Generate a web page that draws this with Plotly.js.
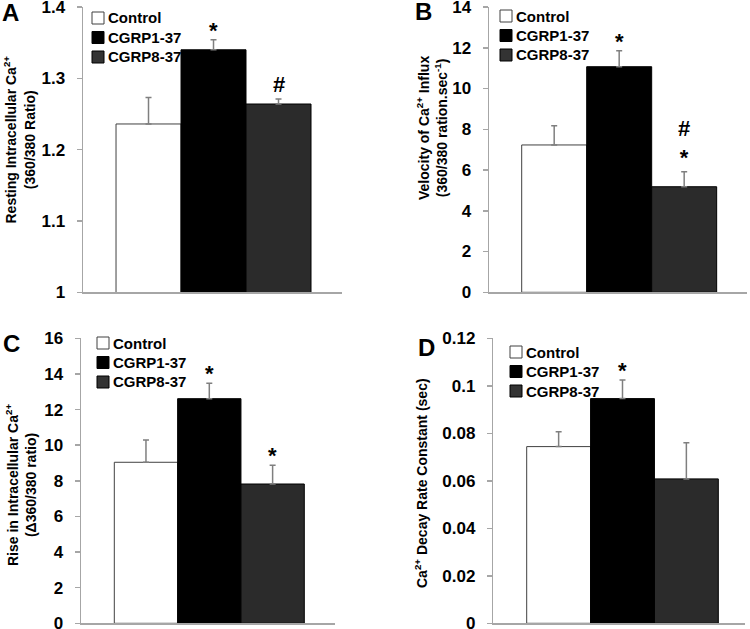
<!DOCTYPE html>
<html>
<head>
<meta charset="utf-8">
<script src="https://cdn.plot.ly/plotly-3.0.1.min.js"></script>
<style>
  html, body { margin: 0; padding: 0; background: #fff; }
  #myDiv { width: 750px; height: 629px; }
</style>
</head>
<body>
<div id="myDiv"></div>
<script>
var divId = "myDiv";

// groups, shared by the four panels
var groups = ["Control", "CGRP1-37", "CGRP8-37"];
var groupColors = ["#ffffff", "#000000", "#2b2b2b"];
var groupLines = ["#404040", "#000000", "#000000"];

// A - resting intracellular Ca2+
var restMean = [1.236, 1.340, 1.264];
var restSem = [0.037, 0.014, 0.007];
var restSig = ["", "*", "#"];
var restTicks = [1, 1.1, 1.2, 1.3, 1.4];
var restTickText = ["1", "1.1", "1.2", "1.3", "1.4"];

// B - velocity of Ca2+ influx
var velMean = [7.23, 11.07, 5.18];
var velSem = [0.94, 0.78, 0.74];
var velSig = ["", "*", "#<br>*"];
var velTicks = [0, 2, 4, 6, 8, 10, 12, 14];
var velTickText = ["0", "2", "4", "6", "8", "10", "12", "14"];

// C - rise in intracellular Ca2+
var riseMean = [9.04, 12.61, 7.82];
var riseSem = [1.25, 0.86, 1.05];
var riseSig = ["", "*", "*"];
var riseTicks = [0, 2, 4, 6, 8, 10, 12, 14, 16];
var riseTickText = ["0", "2", "4", "6", "8", "10", "12", "14", "16"];

// D - decay rate constant
var decayMean = [0.0744, 0.0946, 0.0608];
var decaySem = [0.0063, 0.0078, 0.0152];
var decaySig = ["", "*", ""];
var decayTicks = [0, 0.02, 0.04, 0.06, 0.08, 0.1, 0.12];
var decayTickText = ["0", "0.02", "0.04", "0.06", "0.08", "0.1", "0.12"];

var W = 750, H = 629;
function px(x) { return x / W; }
function py(y) { return 1 - y / H; }

var fam = "Liberation Sans, Arial, sans-serif";
var axisGray = "#a6a6a6";

var panels = [
  { key: "", letter: "A", mean: restMean, sem: restSem, sig: restSig,
    ticks: restTicks, tickText: restTickText, yrange: [1, 1.4],
    xdom: [83, 342], ydom: [292.3, 7], xrange: [-1.008, 2.977],
    title: "Resting Intracellular Ca<sup>2+</sup><br>(360/380 Ratio)",
    titlePos: [19.5, 140], letterPos: [0, 12], legendPos: [92, 18] },
  { key: "2", letter: "B", mean: velMean, sem: velSem, sig: velSig,
    ticks: velTicks, tickText: velTickText, yrange: [0, 14],
    xdom: [489, 746.7], ydom: [292.3, 7], xrange: [-1.003, 2.962],
    title: "Velocity of Ca<sup>2+</sup> Influx<br>(360/380 ration.sec<sup>-1</sup>)",
    titlePos: [432, 128], letterPos: [413, 11], legendPos: [500, 16] },
  { key: "3", letter: "C", mean: riseMean, sem: riseSem, sig: riseSig,
    ticks: riseTicks, tickText: riseTickText, yrange: [0, 16],
    xdom: [81, 335], ydom: [623.3, 338.3], xrange: [-1.026, 2.985],
    title: "Rise in Intracellular Ca<sup>2+</sup><br>(\u0394360/380 ratio)",
    titlePos: [21, 485], letterPos: [1, 343], legendPos: [97, 343] },
  { key: "4", letter: "D", mean: decayMean, sem: decaySem, sig: decaySig,
    ticks: decayTicks, tickText: decayTickText, yrange: [0, 0.12],
    xdom: [493.3, 745], ydom: [623.3, 338.3], xrange: [-1.023, 2.918],
    title: "Ca<sup>2+</sup> Decay Rate Constant (sec)",
    titlePos: [421, 483], letterPos: [416, 348], legendPos: [510, 352] }
];

var data = [];
var layout = {
  width: W,
  height: H,
  margin: { l: 0, r: 0, t: 0, b: 0 },
  paper_bgcolor: "#ffffff",
  plot_bgcolor: "rgba(0,0,0,0)",
  showlegend: false,
  barmode: "overlay",
  font: { family: fam, color: "#000000" },
  annotations: [],
  shapes: []
};

panels.forEach(function (p) {
  var xa = "x" + p.key, ya = "y" + p.key;
  data.push({
    type: "bar",
    x: [0, 1, 2],
    y: p.mean,
    width: [1, 1, 1],
    hovertext: groups,
    hoverinfo: "text+y",
    textposition: "none",
    xaxis: xa,
    yaxis: ya,
    marker: {
      color: groupColors,
      line: { color: groupLines, width: 1 }
    },
    error_y: {
      type: "data",
      symmetric: false,
      array: p.sem,
      arrayminus: [0, 0, 0],
      color: "#7f7f7f",
      thickness: 1.5,
      width: 3
    }
  });

  layout["xaxis" + p.key] = {
    domain: [px(p.xdom[0]), px(p.xdom[1])],
    range: p.xrange,
    anchor: ya,
    showgrid: false,
    zeroline: false,
    showticklabels: false,
    ticks: "",
    showline: true,
    linecolor: axisGray,
    linewidth: 1.5,
    fixedrange: true
  };
  layout["yaxis" + p.key] = {
    domain: [py(p.ydom[0]), py(p.ydom[1])],
    range: p.yrange,
    anchor: xa,
    showgrid: false,
    zeroline: false,
    tickvals: p.ticks,
    ticktext: p.tickText,
    ticks: "outside",
    ticklen: 5,
    tickwidth: 1.5,
    tickcolor: axisGray,
    ticklabelstandoff: 8,
    ticklabeloverflow: "allow",
    tickfont: { family: fam, size: 17, weight: 700, color: "#000000" },
    showline: true,
    linecolor: axisGray,
    linewidth: 1.5,
    fixedrange: true
  };

  // significance marks over the error bars
  p.sig.forEach(function (s, i) {
    if (!s) return;
    layout.annotations.push({
      xref: xa, yref: ya,
      x: i, y: p.mean[i] + p.sem[i],
      text: s,
      showarrow: false,
      yanchor: "bottom",
      yshift: s === "*" ? -5 : 0,
      font: { family: fam, size: 22, weight: 700, color: "#000000" }
    });
  });

  // y title
  layout.annotations.push({
    xref: "paper", yref: "paper",
    x: px(p.titlePos[0]), y: py(p.titlePos[1]),
    xanchor: "center", yanchor: "middle",
    text: p.title,
    textangle: -90,
    showarrow: false,
    font: { family: fam, size: 14, weight: 700, color: "#000000" }
  });

  // panel letter
  layout.annotations.push({
    xref: "paper", yref: "paper",
    x: px(p.letterPos[0]), y: py(p.letterPos[1]),
    xanchor: "left", yanchor: "middle",
    text: p.letter,
    showarrow: false,
    font: { family: fam, size: 24, weight: 700, color: "#000000" }
  });

  // legend
  groups.forEach(function (g, i) {
    var cy = p.legendPos[1] + i * 19.5;
    var x0 = p.legendPos[0];
    layout.shapes.push({
      type: "rect", xref: "paper", yref: "paper",
      x0: px(x0), x1: px(x0 + 12),
      y0: py(cy + 6), y1: py(cy - 6),
      fillcolor: i === 2 ? "#333333" : groupColors[i],
      line: { color: i === 0 ? "#404040" : "#000000", width: 1 }
    });
    layout.annotations.push({
      xref: "paper", yref: "paper",
      x: px(x0 + 14), y: py(cy),
      xanchor: "left", yanchor: "middle",
      text: g,
      showarrow: false,
      font: { family: fam, size: 15, weight: 700, color: "#000000" }
    });
  });
});

var display = { displayModeBar: false, staticPlot: true };

Plotly.newPlot(divId, data, layout, display);
</script>
</body>
</html>
